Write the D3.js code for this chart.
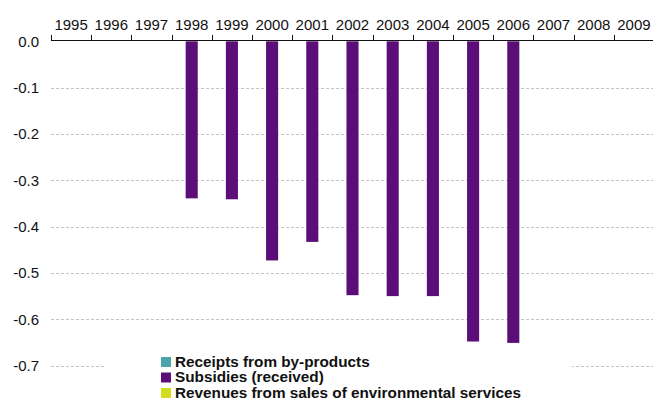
<!DOCTYPE html>
<html><head><meta charset="utf-8">
<script src="https://cdn.jsdelivr.net/npm/d3@7"></script>
<style>body{margin:0;background:#fff}svg{display:block}</style>
</head><body>
<script>
const years = ["1995","1996","1997","1998","1999","2000","2001","2002","2003","2004","2005","2006","2007","2008","2009"];
const seriesNames = ["Receipts from by-products","Subsidies (received)","Revenues from sales of environmental services"];
const seriesColors = ["#4aa6a9","#5c0e78","#d4dc20"];
const receipts = [null,null,null,null,null,null,null,null,null,null,null,null,null,null,null];
const subsidies = [null,null,null,-0.339,-0.341,-0.473,-0.433,-0.548,-0.550,-0.550,-0.648,-0.651,null,null,null];
const revenues = [null,null,null,null,null,null,null,null,null,null,null,null,null,null,null];
const yTicks = [0,-0.1,-0.2,-0.3,-0.4,-0.5,-0.6,-0.7];

const W=653,H=398;
const svg=d3.select("body").append("svg").attr("width",W).attr("height",H);
const font="'Liberation Sans', Arial, sans-serif";
const x0=d3.scaleBand().domain(years).range([51,654]);
const x1=d3.scaleBand().domain(seriesNames).range([2,x0.bandwidth()-2]);
const y=d3.scaleLinear().domain([0,-0.7]).range([41.3,365.6]);

// grid
svg.append("g").selectAll("line").data(yTicks.filter(d=>d!==0)).join("line")
 .attr("x1",51).attr("x2",654).attr("y1",d=>Math.round(y(d))+0.5).attr("y2",d=>Math.round(y(d))+0.5)
 .attr("stroke","#c4c4c4").attr("stroke-dasharray","3,2");

// y labels
svg.append("g").selectAll("text").data(yTicks).join("text")
 .attr("x",39).attr("y",d=>y(d)).attr("dy","0.35em").attr("text-anchor","end")
 .attr("font-family",font).attr("font-size",15).attr("fill","#111")
 .text(d=>d3.format(".1f")(d).replace("−","-"));

// bars
const data=[receipts,subsidies,revenues];
data.forEach((arr,si)=>{
 svg.append("g").selectAll("rect").data(years.map((yr,i)=>({yr,v:arr[i]})).filter(d=>d.v!=null)).join("rect")
  .attr("x",d=>x0(d.yr)+x1(seriesNames[si])).attr("width",x1.bandwidth())
  .attr("y",d=>y(0)).attr("height",d=>y(d.v)-y(0)).attr("fill",seriesColors[si]);
});

// top axis
const ax=d3.axisTop(x0).tickSize(0).tickPadding(11);
const g=svg.append("g").attr("transform","translate(0,40.5)").call(ax);
g.select(".domain").remove();
g.selectAll("text").attr("font-family",font).attr("font-size",15).attr("fill","#111");
svg.append("line").attr("x1",51).attr("x2",654).attr("y1",40.5).attr("y2",40.5).attr("stroke","#111");
svg.append("g").selectAll("line").data(years).join("line")
 .attr("x1",d=>Math.round(x0(d))+0.5).attr("x2",d=>Math.round(x0(d))+0.5).attr("y1",35).attr("y2",40.5).attr("stroke","#111");

// legend
const lg=svg.append("g");
lg.append("rect").attr("x",105).attr("y",350).attr("width",467).attr("height",48).attr("fill","#fff");
seriesNames.forEach((n,i)=>{
 lg.append("rect").attr("x",161).attr("y",357+i*15.5).attr("width",10).attr("height",10).attr("fill",seriesColors[i]);
 lg.append("text").attr("x",175).attr("y",366.5+i*15.5).attr("font-family",font).attr("font-size",15.3).attr("font-weight","bold").attr("fill","#111").text(n);
});
</script>
</body></html>
